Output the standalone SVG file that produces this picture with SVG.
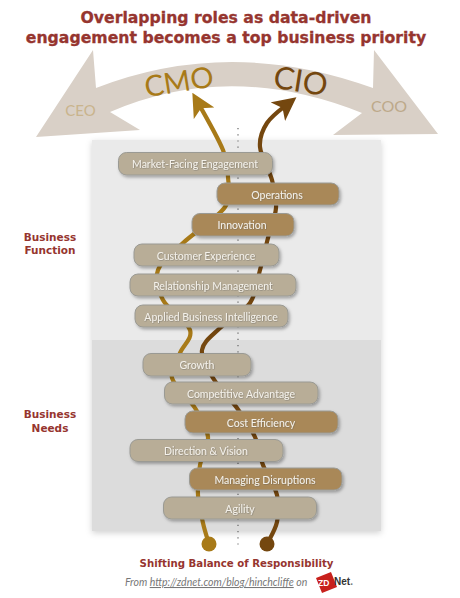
<svg xmlns="http://www.w3.org/2000/svg" width="460" height="598" viewBox="0 0 460 598">
<style>
.bar{stroke:#9a9a94;stroke-width:1}
.n{fill:#b8ad97}
.h{fill:#a98858}
.t{font-family:Lato,"Noto Sans",sans-serif;font-size:10.5px;fill:#f4f1ea;text-anchor:middle;filter:url(#ts)}
.hd{font-family:"DejaVu Sans",Verdana,sans-serif;font-weight:bold;fill:#96352f;text-anchor:middle}
.c{fill:none;stroke-width:4.2;stroke-linecap:round}
.role{font-family:Lato,"Noto Sans",sans-serif;text-anchor:middle}
</style>
<defs>
<filter id="sh" x="-10%" y="-30%" width="120%" height="170%"><feDropShadow dx="1.5" dy="2" stdDeviation="1.5" flood-color="#000" flood-opacity=".3"/></filter>
<filter id="ps" x="-5%" y="-5%" width="110%" height="110%"><feDropShadow dx="0" dy="2" stdDeviation="3" flood-color="#000" flood-opacity=".18"/></filter>
<filter id="ts" x="-10%" y="-30%" width="120%" height="170%"><feDropShadow dx="0.5" dy="0.5" stdDeviation="0.5" flood-color="#555" flood-opacity=".6"/></filter>
<marker id="ag" viewBox="0 0 10 10" refX="6" refY="5" markerWidth="5.6" markerHeight="5.6" markerUnits="strokeWidth" orient="auto"><path d="M0 0L10 5L0 10L2.5 5Z" fill="#a87a18"/></marker>
<marker id="ab" viewBox="0 0 10 10" refX="6" refY="5" markerWidth="5.6" markerHeight="5.6" markerUnits="strokeWidth" orient="auto"><path d="M0 0L10 5L0 10L2.5 5Z" fill="#74470f"/></marker>
</defs>
<text class="hd" x="226" y="22.500" font-size="15.7" stroke="#96352f" stroke-width=".3">Overlapping roles as data-driven</text>
<text class="hd" x="226" y="42.500" font-size="15.7" stroke="#96352f" stroke-width=".3">engagement becomes a top business priority</text>
<g id="role-arc">
<path d="M36 137L93 50L96 88Q230 36 373 88L374 50L438 134L333 135L362 113Q230 60 110 112L140 130Z" fill="#d9d0c7"/>
<text class="role" x="80.500" y="116" font-size="15" fill="#c9b48d">CEO</text>
<text class="role" x="389" y="112" font-size="16" fill="#bda98a">COO</text>
<text class="role" x="179" y="92" font-size="29" fill="#a87a18" transform="rotate(-9 179 82)">CMO</text>
<text class="role" x="300.500" y="92" font-size="31" fill="#74470f" transform="rotate(9 301 82)">CIO</text>
</g>
<g id="panel">
<rect x="92" y="140" width="289" height="391" fill="#eaeaea" filter="url(#ps)"/>
<rect x="92" y="340" width="289" height="191" fill="#dcdcdc"/>
</g>
<line x1="238" y1="128" x2="238" y2="548" stroke="#666" stroke-width="1.2" stroke-dasharray="1.2 5"/>
<g id="connectors">
<path class="c" stroke="#a87a18" marker-end="url(#ag)" d="M209 544C208 540.500 204.800 531.200 203 523C201.200 514.800 198.500 504.700 198 495C197.500 485.300 198.300 474.700 200 465C201.700 455.300 208.800 446.500 208 437C207.200 427.500 201 417.800 195 408C189 398.200 174.500 387.200 172 378C169.500 368.800 177 361 180 353C183 345 192.800 338.800 190 330C187.200 321.200 168.300 310 163 300C157.700 290 154.700 279.500 158 270C161.300 260.500 171.800 253.500 183 243C194.200 232.500 217.500 218 225 207C232.500 196 228.300 186.500 228 177C227.700 167.500 226 158 223 150C217.800 137.300 205 115 197 101"/>
<path class="c" stroke="#74470f" marker-end="url(#ab)" d="M267 544C268.700 540.300 275.300 530.200 277 522C278.700 513.800 279.300 504.500 277 495C274.700 485.500 266.700 474.700 263 465C259.300 455.300 259.300 446.500 255 437C250.700 427.500 244 417.800 237 408C230 398.200 218.800 387.700 213 378C207.200 368.300 200.800 358.300 202 350C203.200 341.700 212 335.800 220 328C228 320.200 243.300 312.700 250 303C256.700 293.300 257 280.800 260 270C263 259.200 265.300 248.300 268 238C270.700 227.700 275.300 217.700 276 208C276.700 198.300 274.700 190.200 272 180C269.300 169.800 260.800 156.500 260 147C259.200 137.500 262.200 130.300 267 123C271.800 115.700 280 110 289 103"/>
<circle cx="209" cy="544" r="7.500" fill="#a87a18"/>
<circle cx="267" cy="544" r="7.500" fill="#74470f"/>
</g>
<g id="market-facing"><rect class="bar n" x="118.500" y="152.500" width="154" height="22.500" rx="8" filter="url(#sh)"/><text class="t" x="195" y="168">Market-Facing Engagement</text></g>
<g id="operations"><rect class="bar h" x="217" y="183" width="122" height="22" rx="8" filter="url(#sh)"/><text class="t" x="277" y="198.500">Operations</text></g>
<g id="innovation"><rect class="bar h" x="192" y="213.500" width="102" height="22.500" rx="8" filter="url(#sh)"/><text class="t" x="242" y="229">Innovation</text></g>
<g id="customer"><rect class="bar n" x="134" y="244" width="145" height="22" rx="8" filter="url(#sh)"/><text class="t" x="206" y="259.500">Customer Experience</text></g>
<g id="relationship"><rect class="bar n" x="130" y="274" width="166" height="22" rx="8" filter="url(#sh)"/><text class="t" x="213" y="290">Relationship Management</text></g>
<g id="applied"><rect class="bar n" x="135" y="305" width="153" height="22" rx="8" filter="url(#sh)"/><text class="t" x="211" y="320.500">Applied Business Intelligence</text></g>
<g id="growth"><rect class="bar n" x="143" y="353.500" width="108" height="22.500" rx="8" filter="url(#sh)"/><text class="t" x="197" y="369">Growth</text></g>
<g id="competitive"><rect class="bar n" x="164.500" y="382" width="153.500" height="22" rx="8" filter="url(#sh)"/><text class="t" x="241" y="398">Competitive Advantage</text></g>
<g id="cost"><rect class="bar h" x="185" y="411" width="153" height="22" rx="8" filter="url(#sh)"/><text class="t" x="261" y="427">Cost Efficiency</text></g>
<g id="direction"><rect class="bar n" x="130" y="439.500" width="153" height="22" rx="8" filter="url(#sh)"/><text class="t" x="206" y="455">Direction &amp; Vision</text></g>
<g id="managing"><rect class="bar h" x="189.500" y="468" width="152.500" height="22" rx="8" filter="url(#sh)"/><text class="t" x="265" y="484">Managing Disruptions</text></g>
<g id="agility"><rect class="bar n" x="163.500" y="497" width="153" height="22" rx="8" filter="url(#sh)"/><text class="t" x="240" y="513">Agility</text></g>
<text class="hd" x="50" y="241" font-size="10.500">Business</text>
<text class="hd" x="50" y="254" font-size="10.500">Function</text>
<text class="hd" x="50" y="418" font-size="10.500">Business</text>
<text class="hd" x="50" y="432" font-size="10.500">Needs</text>
<text class="hd" x="236.500" y="567" font-size="10.200">Shifting Balance of Responsibility</text>
<text x="125" y="586" font-family="Lato,sans-serif" font-style="italic" font-size="10.500" fill="#777">From <tspan text-decoration="underline">http://zdnet.com/blog/hinchcliffe</tspan> on</text>
<g id="zdnet-logo">
<path d="M316 578L331 572L337 587L322 593Z" fill="#c8211c"/>
<text x="318" y="586" font-family="'Liberation Sans',sans-serif" font-weight="bold" font-size="8.500" fill="#fff">ZD</text>
<text x="334" y="585" font-family="'Liberation Sans',sans-serif" font-weight="bold" font-size="10" fill="#333">Net<tspan fill="#777">.</tspan></text>
</g>
</svg>
